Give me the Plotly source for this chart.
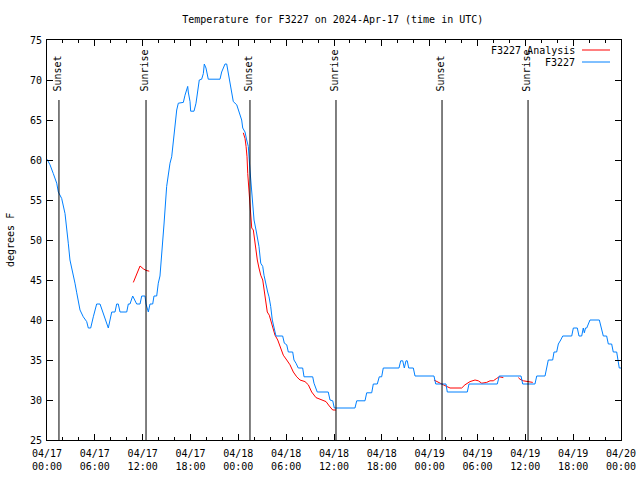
import pandas as pd
import plotly.graph_objects as go

# ---- data (hours since 2024-04-17 00:00 UTC, degrees F) ----
obs_hours = [0, 0.38, 0.79, 1.22, 1.42, 1.84, 2.26, 2.47, 2.67, 2.88, 3.30, 3.51, 3.73, 4.14, 4.55, 4.98,
             5.18, 5.48, 5.81, 6.23, 6.65, 7.06, 7.49, 7.69, 8.12, 8.53, 8.74, 8.94, 9.16, 10.0, 10.2,
             10.41, 10.75, 11.25, 11.67, 11.88, 12.29, 12.42, 12.71, 12.92, 13.26, 13.42, 13.76, 13.96,
             14.17, 14.43, 14.68, 15.01, 15.21, 15.43, 15.64, 15.84, 16.06, 16.27, 16.47, 17.1, 17.31,
             17.52, 17.65, 17.72, 17.94, 18.02, 18.44, 18.69, 18.98, 19.1, 19.4, 19.61, 19.73, 19.94,
             20.23, 21.7, 21.91, 22.33, 22.54, 22.74, 22.95, 23.17, 23.37, 23.8, 24.0, 24.21, 24.42,
             24.55, 24.84, 25.05, 25.25, 25.46, 25.59, 25.68, 25.8, 25.97, 26.22, 26.38, 26.59, 26.81,
             27.06, 27.22, 27.43, 27.68, 27.85, 28.06, 28.26, 28.47, 28.72, 29.56, 29.77, 30.07, 30.27,
             30.82, 30.98, 31.23, 31.52, 32.07, 32.24, 33.33, 33.49, 33.9, 35.28, 35.5, 35.84, 36.04,
             38.63, 38.85, 39.89, 40.1, 40.73, 40.93, 41.43, 41.68, 41.98, 42.18, 44.15, 44.37, 44.62,
             44.82, 45.03, 45.19, 45.37, 45.95, 46.16, 48.54, 48.76, 50.05, 50.21, 52.72, 52.93, 56.48,
             56.73, 59.46, 59.67, 61.21, 61.43, 62.47, 62.68, 62.88, 63.43, 63.6, 63.93, 64.14, 64.44,
             64.69, 65.82, 66.02, 66.52, 66.73, 67.07, 67.27, 67.4, 67.55, 67.7, 68.11, 69.28, 69.49,
             69.78, 70.2, 70.41, 70.83, 71.03, 71.46, 71.58, 71.78, 72.0]
obs_temps = [60.1, 59.4, 58.3, 57.1, 56, 55.2, 53.3, 51.7, 49.6, 47.5, 45.8, 44.6, 43.4, 41.25, 40.4, 39.8,
             39, 39, 40.4, 42, 42, 40.8, 39.8, 39, 41, 41, 42, 42, 41, 41, 42,
             42, 43, 42, 42, 43, 43, 42, 41, 42, 42, 43, 43, 44.6,
             45.5, 48.5, 52, 56.7, 58.3, 59.6, 60.4, 62.5, 64.2, 66.25, 67.1, 67.2, 68.1,
             68.75, 69.2, 68.5, 67.3, 66.1, 66.1, 67.1, 69.2, 70, 70.1, 70.8, 72, 71.5,
             70.1, 70.1, 71, 72, 72, 70.8, 70, 68.75, 67.3, 66.9, 66.25, 65.6, 65,
             64, 63.5, 62.5, 61.7, 58.75, 57.1, 55, 53.75, 52.5, 51.25, 50.4, 49.2, 47.1,
             46.7, 45.6, 44.4, 43.5, 42.9, 41.7, 40, 39.2, 38, 38, 37.1, 36.9, 36,
             36, 35, 34.6, 34, 34, 32.9, 32.9, 32.1, 31, 31, 30, 29.9, 29,
             29, 29.9, 29.9, 30.9, 30.9, 32, 32, 32.9, 32.9, 34, 34, 34.9, 34.9,
             34, 34.9, 34.9, 34, 34, 33, 33, 32, 32, 31, 31, 32, 32,
             33, 33, 32, 32, 33, 33, 34, 35, 35, 36, 36, 37, 37.5,
             38, 38, 39, 39, 38, 38, 39, 38.4, 39, 39, 40, 40, 39,
             38, 38, 37, 37, 36, 36, 35, 34, 34]

ana_hours = [10.83, 11.25, 11.67, 12.08, 12.42, 12.83, None,
             24.62, 24.84, 24.97, 25.09, 25.18, 25.34, 25.46, 25.55, 25.68, 25.88, 26.0, 26.18, 26.38,
             26.59, 26.81, 27.06, 27.22, 27.43, 27.63, 27.88, 28.06, 28.31, 28.6, 28.94, 29.23, 29.64,
             30.07, 30.48, 30.9, 31.32, 31.74, 32.36, 32.78, 33.2, 33.74, 34.46, 35.0, 35.41, 35.84,
             36.25, None,
             48.54, 49.08, 49.71, 50.55, 52.02, 52.43, 53.06, 53.69, 54.1, 54.53, 55.15, 55.57, 55.98,
             56.41, 56.73, 57.24, None,
             59.12, 59.33, 59.75, 60.37, 60.93]
ana_temps = [44.7, 45.8, 46.75, 46.4, 46.2, 46.1, None,
             63.4, 62.7, 61.7, 60.4, 58.3, 56.25, 54.6, 52.5, 51.5, 51.25, 50.2, 49, 47.5,
             46.5, 45.6, 45, 43.75, 42.5, 41, 40.6, 40, 39.2, 38.1, 37.5, 36.7, 35.6,
             35, 34.4, 33.5, 32.9, 32.5, 32.3, 31.9, 31, 30.3, 30, 29.8, 29.25, 28.75,
             28.75, None,
             32.5, 32.2, 31.9, 31.5, 31.5, 31.9, 32.3, 32.5, 32.4, 32.1, 32.2, 32.4, 32.4,
             32.7, 32.9, 32.8, None,
             32.8, 32.6, 32.4, 32.3, 32.2]

event_hours = [1.5, 12.42, 25.46, 36.25, 49.55, 60.34]
event_labels = ["Sunset", "Sunrise", "Sunset", "Sunrise", "Sunset", "Sunrise"]

tick_hours = list(range(0, 73, 6))
y_ticks = [25, 30, 35, 40, 45, 50, 55, 60, 65, 70, 75]

start = pd.Timestamp("2024-04-17 00:00")


def to_time(hs):
    return [None if h is None else start + pd.Timedelta(hours=h) for h in hs]


FONT = "DejaVu Sans Mono"
BLUE = "#0080ff"
RED = "#ff0000"

fig = go.Figure()
fig.add_trace(go.Scatter(x=to_time(ana_hours), y=ana_temps, mode="lines",
                         line=dict(color=RED, width=1), name="F3227 Analysis",
                         connectgaps=False, showlegend=False))
fig.add_trace(go.Scatter(x=to_time(obs_hours), y=obs_temps, mode="lines",
                         line=dict(color=BLUE, width=1), name="F3227", showlegend=False))

for h, lab in zip(event_hours, event_labels):
    t = start + pd.Timedelta(hours=h)
    fig.add_shape(type="line", xref="x", yref="y", x0=t, x1=t, y0=25, y1=67.5,
                  line=dict(color="black", width=1))
    fig.add_annotation(x=t, y=68.3, xref="x", yref="y", text=lab, textangle=-90,
                       showarrow=False, xanchor="center", yanchor="bottom", xshift=-1,
                       font=dict(family=FONT, size=10, color="black"))

# legend (text left of sample line, gnuplot style)
L, R, T, B = 47, 621, 40, 440
def px(xp):
    return (xp - L) / (R - L)
def py(yp):
    return (B - yp) / (B - T)

for i, (name, col) in enumerate([("F3227 Analysis", RED), ("F3227", BLUE)]):
    yy = 50 + 12 * i
    fig.add_annotation(x=px(577), y=py(yy), xref="paper", yref="paper", text=name,
                       showarrow=False, xanchor="right", yanchor="middle",
                       font=dict(family=FONT, size=10, color="black"))
    fig.add_shape(type="line", xref="paper", yref="paper", x0=px(582), x1=px(610),
                  y0=py(yy), y1=py(yy), line=dict(color=col, width=1))

fig.add_annotation(x=px(10), y=0.5, xref="paper", yref="paper", text="degrees F",
                   textangle=-90, showarrow=False, xanchor="center", yanchor="middle",
                   font=dict(family=FONT, size=10, color="black"))

tick_vals = [start + pd.Timedelta(hours=h) for h in tick_hours]
tick_text = [t.strftime("%m/%d") + "<br>" + t.strftime("%H:%M") for t in tick_vals]

fig.update_layout(
    width=640, height=480,
    margin=dict(l=L, r=640 - R, t=T, b=480 - B, autoexpand=False),
    paper_bgcolor="white", plot_bgcolor="white",
    font=dict(family=FONT, size=10, color="black"),
    title=dict(text="Temperature for F3227 on 2024-Apr-17 (time in UTC)",
               x=0.52, xanchor="center", y=1 - 19 / 480, yanchor="middle",
               font=dict(family=FONT, size=10, color="black")),
    showlegend=False,
)
fig.update_xaxes(range=[start, start + pd.Timedelta(hours=72)],
                 tickvals=tick_vals, ticktext=tick_text, automargin=False,
                 ticks="inside", ticklen=6, tickcolor="black", tickwidth=1,
                 ticklabelstandoff=4,
                 showline=True, linecolor="black", linewidth=1, mirror="allticks",
                 showgrid=False, zeroline=False,
                 minor=dict(dtick=2 * 3600 * 1000, ticks="inside", ticklen=3,
                            tickcolor="black", showgrid=False),
                 tickfont=dict(family=FONT, size=10, color="black"))
fig.update_yaxes(range=[25, 75], tickvals=y_ticks, automargin=False,
                 ticks="inside", ticklen=6, tickcolor="black", tickwidth=1,
                 ticklabelstandoff=2,
                 showline=True, linecolor="black", linewidth=1, mirror="allticks",
                 showgrid=False, zeroline=False,
                 tickfont=dict(family=FONT, size=10, color="black"))

fig.write_html("out.html", config={"displayModeBar": False},
               post_script="document.body.style.margin='0px';document.body.style.overflow='hidden';")
